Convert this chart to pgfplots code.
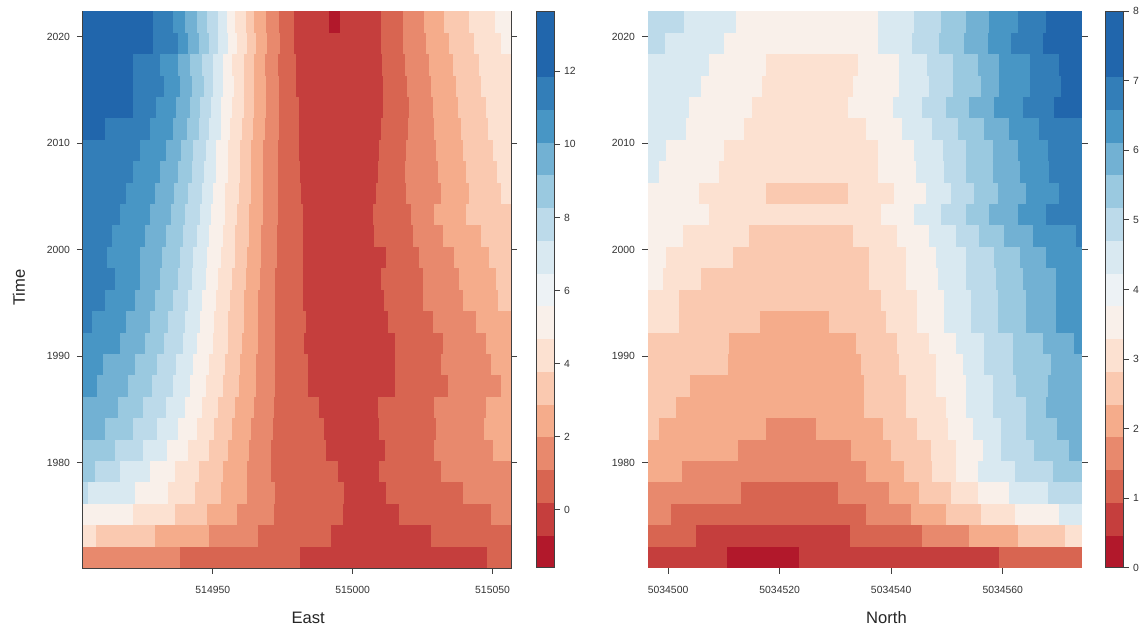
\documentclass[border=0pt]{standalone}
\usepackage{fontspec}
\setmainfont{Liberation Sans}
\usepackage{pgfplots}
\pgfplotsset{compat=1.18}
\pgfplotsset{
  colormap={rdbu}{rgb255=(178,24,43) rgb255=(197,62,61) rgb255=(216,101,81) rgb255=(232,137,109)
    rgb255=(245,172,139) rgb255=(250,201,176) rgb255=(252,225,209) rgb255=(249,240,234)
    rgb255=(237,242,245) rgb255=(217,233,241) rgb255=(188,218,234) rgb255=(154,201,224)
    rgb255=(114,177,211) rgb255=(72,150,197) rgb255=(51,126,184) rgb255=(33,102,172) rgb255=(33,102,172)},
  rw/.style={mesh, shader=flat corner, point meta=explicit, line width=10.9pt, line cap=butt},
  hm/.style={anchor=south west, scale only axis, height=278.5pt,
    ymin=1970.14, ymax=2022.41,
    ytick={1980,1990,2000,2010,2020}, yticklabels={1980,1990,2000,2010,2020},
    xtick pos=bottom, ytick pos=both, yticklabel pos=left,
    tick align=outside, major tick length=3pt,
    axis line style={black!75, line width=0.5pt},
    tick style={black!75, line width=0.5pt},
    ticklabel style={font=\fontsize{5.2}{6}\selectfont, text=black!80},
    xticklabel style={yshift=-2.5pt},
    label style={font=\fontsize{8.3}{10}\selectfont, text=black!85, anchor=center},
    colormap name=rdbu, colormap access=piecewise constant,
    point meta min=-0.5, point meta max=15.5,
    colorbar,
    colorbar style={at={(parent axis.north east)}, anchor=north west, scale only axis,
      width=9pt, ytick pos=right, yticklabel pos=right, tick align=outside, major tick length=3pt,
      axis line style={black!75, line width=0.5pt}, tick style={black!75, line width=0.5pt},
      ticklabel style={font=\fontsize{5.2}{6}\selectfont, text=black!80},
      yticklabel style={xshift=-1.5pt}},
  },
}
\begin{document}
\begin{tikzpicture}
\useasboundingbox (-41.5pt,-32pt) rectangle (529.5pt,284pt);
% ---------------- LEFT: East ----------------
\begin{axis}[hm, at={(0pt,0pt)}, width=214pt,
  xmin=3.6, xmax=156.6, xtick={50,100,150}, xticklabels={514950,515000,515050},
  colorbar style={xshift=4pt, ytick={1.17,3.27,5.37,7.47,9.57,11.67,13.77}, yticklabels={0,2,4,6,8,10,12}},
  xlabel={East}, xlabel style={at={(axis description cs:0.526,-0.0898)}},
  ylabel={Time}, ylabel style={at={(axis description cs:-0.1495,0.503)}}]
\addplot[rw] table[meta=c,row sep=\\,y expr=1971.15]{x c\\3.6 3\\38.4 2\\81.2 1\\148.1 2\\156.6 2\\};
\addplot[rw] table[meta=c,row sep=\\,y expr=1973.16]{x c\\3.6 6\\8.4 5\\29.5 4\\48.5 3\\66.0 2\\92.1 1\\127.9 2\\156.6 2\\};
\addplot[rw] table[meta=c,row sep=\\,y expr=1975.17]{x c\\3.6 7\\21.6 6\\36.6 5\\48.1 4\\58.8 3\\71.7 2\\96.4 1\\116.5 2\\149.4 3\\156.6 3\\};
\addplot[rw] table[meta=c,row sep=\\,y expr=1977.18]{x c\\3.6 9\\5.5 8\\22.3 7\\34.1 6\\43.8 5\\52.8 4\\62.4 3\\72.4 2\\96.8 1\\111.8 2\\139.4 3\\156.6 3\\};
\addplot[rw] table[meta=c,row sep=\\,y expr=1979.19]{x c\\3.6 10\\8.0 9\\17.0 8\\27.7 7\\36.6 6\\44.9 5\\53.5 4\\62.4 3\\70.7 2\\94.6 1\\109.3 2\\131.5 3\\156.6 3\\};
\addplot[rw] table[meta=c,row sep=\\,y expr=1981.20]{x c\\3.6 10\\15.2 9\\25.2 8\\33.8 7\\41.3 6\\48.5 5\\55.6 4\\62.8 3\\70.7 2\\90.3 1\\111.5 2\\129.0 3\\150.1 4\\156.6 4\\};
\addplot[rw] table[meta=c,row sep=\\,y expr=1983.21]{x c\\3.6 11\\11.6 10\\21.6 9\\30.2 8\\37.7 7\\44.2 6\\50.6 5\\57.0 4\\63.8 3\\71.4 2\\89.6 1\\109.3 2\\129.7 3\\146.9 4\\156.6 4\\};
\addplot[rw] table[meta=c,row sep=\\,y expr=1985.22]{x c\\3.6 11\\16.2 10\\25.2 9\\33.1 8\\39.9 7\\46.0 6\\52.0 5\\58.1 4\\64.6 3\\71.7 2\\87.8 1\\109.0 2\\129.0 3\\147.6 4\\156.6 4\\};
\addplot[rw] table[meta=c,row sep=\\,y expr=1987.23]{x c\\3.6 12\\8.7 11\\19.8 10\\28.4 9\\35.6 8\\42.0 7\\47.7 6\\53.5 5\\59.2 4\\65.3 3\\72.1 2\\84.2 1\\115.0 2\\134.0 3\\153.0 4\\156.6 4\\};
\addplot[rw] table[meta=c,row sep=\\,y expr=1989.24]{x c\\3.6 12\\10.9 11\\22.3 10\\30.2 9\\37.0 8\\43.1 7\\48.5 6\\54.2 5\\59.9 4\\65.6 3\\72.4 2\\84.2 1\\115.0 2\\131.5 3\\149.4 4\\156.6 4\\};
\addplot[rw] table[meta=c,row sep=\\,y expr=1991.25]{x c\\3.6 12\\17.0 11\\25.9 10\\32.7 9\\39.2 8\\44.5 7\\49.9 6\\55.3 5\\60.6 4\\66.0 3\\72.4 2\\82.5 1\\115.0 2\\132.2 3\\147.6 4\\156.6 4\\};
\addplot[rw] table[meta=c,row sep=\\,y expr=1993.26]{x c\\3.6 13\\6.9 12\\18.8 11\\27.7 10\\34.1 9\\40.2 8\\45.6 7\\50.6 6\\55.6 5\\61.0 4\\66.3 3\\72.4 2\\83.2 1\\112.5 2\\128.6 3\\144.0 4\\156.6 4\\};
\addplot[rw] table[meta=c,row sep=\\,y expr=1995.27]{x c\\3.6 13\\11.6 12\\22.3 11\\29.5 10\\35.9 9\\41.3 8\\46.3 7\\51.3 6\\56.3 5\\61.3 4\\66.3 3\\72.4 2\\82.1 1\\111.1 2\\125.0 3\\139.4 4\\151.9 5\\156.6 5\\};
\addplot[rw] table[meta=c,row sep=\\,y expr=1997.28]{x c\\3.6 13\\15.2 12\\24.1 11\\31.3 10\\37.4 9\\42.7 8\\47.4 7\\52.0 6\\56.7 5\\61.7 4\\66.7 3\\72.4 2\\82.1 1\\110.0 2\\125.0 3\\137.9 4\\151.2 5\\156.6 5\\};
\addplot[rw] table[meta=c,row sep=\\,y expr=1999.29]{x c\\3.6 13\\12.3 12\\24.1 11\\32.0 10\\38.1 9\\43.1 8\\48.1 7\\52.8 6\\57.8 5\\62.4 4\\67.1 3\\72.8 2\\82.1 1\\111.8 2\\123.6 3\\136.1 4\\148.7 5\\156.6 5\\};
\addplot[rw] table[meta=c,row sep=\\,y expr=2001.30]{x c\\3.6 13\\14.1 12\\25.9 11\\33.4 10\\39.2 9\\44.2 8\\48.8 7\\53.5 6\\58.1 5\\62.8 4\\67.4 3\\72.8 2\\82.1 1\\107.5 2\\121.5 3\\132.2 4\\145.8 5\\156.6 5\\};
\addplot[rw] table[meta=c,row sep=\\,y expr=2003.31]{x c\\3.6 13\\17.0 12\\27.7 11\\34.9 10\\40.2 9\\45.3 8\\49.5 7\\54.2 6\\58.8 5\\63.1 4\\67.8 3\\73.2 2\\82.1 1\\107.2 2\\120.8 3\\129.0 4\\140.4 5\\156.6 5\\};
\addplot[rw] table[meta=c,row sep=\\,y expr=2005.32]{x c\\3.6 13\\18.8 12\\29.5 11\\36.3 10\\41.3 9\\46.0 8\\50.2 7\\54.5 6\\59.2 5\\63.5 4\\67.8 3\\73.2 2\\81.4 1\\108.2 2\\119.0 3\\131.5 4\\141.5 5\\153.0 6\\156.6 6\\};
\addplot[rw] table[meta=c,row sep=\\,y expr=2007.33]{x c\\3.6 13\\21.6 12\\31.3 11\\37.4 10\\42.4 9\\46.7 8\\51.0 7\\55.3 6\\59.6 5\\63.5 4\\68.1 3\\73.2 2\\81.0 1\\109.0 2\\118.6 3\\130.4 4\\140.4 5\\151.5 6\\156.6 6\\};
\addplot[rw] table[meta=c,row sep=\\,y expr=2009.34]{x c\\3.6 13\\24.1 12\\33.1 11\\38.8 10\\43.1 9\\47.4 8\\51.3 7\\55.6 6\\59.9 5\\63.8 4\\68.1 3\\73.2 2\\80.7 1\\109.3 2\\119.0 3\\129.7 4\\139.4 5\\150.1 6\\156.6 6\\};
\addplot[rw] table[meta=c,row sep=\\,y expr=2011.35]{x c\\3.6 14\\11.6 13\\27.7 12\\35.6 11\\40.6 10\\44.9 9\\48.8 8\\52.8 7\\56.3 6\\60.6 5\\64.2 4\\68.5 3\\73.5 2\\80.7 1\\110.0 2\\119.7 3\\129.0 4\\138.6 5\\148.3 6\\156.6 6\\};
\addplot[rw] table[meta=c,row sep=\\,y expr=2013.36]{x c\\3.6 14\\21.6 13\\29.8 12\\37.0 11\\41.7 10\\45.6 9\\49.5 8\\53.1 7\\57.0 6\\61.0 5\\64.6 4\\68.9 3\\73.5 2\\80.7 1\\110.7 2\\120.1 3\\128.6 4\\137.6 5\\147.6 6\\156.6 6\\};
\addplot[rw] table[meta=c,row sep=\\,y expr=2015.37]{x c\\3.6 14\\21.6 13\\32.4 12\\38.4 11\\42.7 10\\46.7 9\\50.2 8\\53.8 7\\57.4 6\\61.3 5\\64.9 4\\68.9 3\\73.5 2\\79.9 1\\110.7 2\\119.3 3\\127.9 4\\136.9 5\\145.8 6\\156.6 6\\};
\addplot[rw] table[meta=c,row sep=\\,y expr=2017.38]{x c\\3.6 14\\21.6 13\\31.3 12\\37.7 11\\42.0 10\\46.0 9\\49.9 8\\53.5 7\\57.0 6\\61.0 5\\64.6 4\\68.5 3\\73.2 2\\79.6 1\\110.4 2\\118.6 3\\127.2 4\\135.8 5\\145.1 6\\156.6 6\\};
\addplot[rw] table[meta=c,row sep=\\,y expr=2019.39]{x c\\3.6 14\\28.8 13\\37.4 12\\41.3 11\\44.9 10\\48.5 9\\52.0 8\\55.3 7\\58.5 6\\62.1 5\\65.3 4\\69.2 3\\73.9 2\\79.2 1\\110.0 2\\117.9 3\\126.1 4\\134.4 5\\143.3 6\\153.0 7\\156.6 7\\};
\addplot[rw] table[meta=c,row sep=\\,y expr=2021.40]{x c\\3.6 14\\10.4 15\\15.5 14\\28.8 13\\35.6 12\\40.2 11\\44.2 10\\48.1 9\\51.7 8\\54.9 7\\58.1 6\\61.7 5\\64.6 4\\68.9 3\\73.5 2\\78.9 1\\91.4 0\\95.4 1\\110.0 2\\117.9 3\\125.4 4\\132.6 5\\141.5 6\\150.8 7\\156.6 7\\};
\end{axis}
% ---------------- RIGHT: North ----------------
\begin{axis}[hm, at={(282.5pt,0pt)}, width=217pt,
  xmin=-3.6, xmax=74.2, xtick={0,20,40,60}, xticklabels={5034500,5034520,5034540,5034560},
  colorbar style={xshift=3pt, ytick={-0.5,1.5,3.5,5.5,7.5,9.5,11.5,13.5,15.5}, yticklabels={0,1,2,3,4,5,6,7,8}},
  xlabel={North}, xlabel style={at={(axis description cs:0.5495,-0.0898)}}]
\addplot[rw] table[meta=c,row sep=\\,y expr=1971.15]{x c\\-3.6 1\\10.5 0\\23.4 1\\59.4 2\\74.2 2\\};
\addplot[rw] table[meta=c,row sep=\\,y expr=1973.16]{x c\\-3.6 2\\5.0 1\\32.6 2\\45.6 3\\54.0 4\\62.7 5\\71.2 6\\74.2 6\\};
\addplot[rw] table[meta=c,row sep=\\,y expr=1975.17]{x c\\-3.6 3\\0.5 2\\35.5 3\\43.5 4\\49.8 5\\56.1 6\\62.1 7\\70.1 8\\74.2 8\\};
\addplot[rw] table[meta=c,row sep=\\,y expr=1977.18]{x c\\-3.6 3\\13.0 2\\30.4 3\\39.6 4\\45.0 5\\50.7 6\\55.5 7\\61.2 8\\68.1 9\\74.2 9\\};
\addplot[rw] table[meta=c,row sep=\\,y expr=1979.19]{x c\\-3.6 4\\2.5 3\\35.5 4\\42.3 5\\47.4 6\\51.6 7\\55.5 8\\62.1 9\\69.0 10\\74.2 10\\};
\addplot[rw] table[meta=c,row sep=\\,y expr=1981.20]{x c\\-3.6 4\\12.5 3\\32.8 4\\39.9 5\\47.1 6\\51.6 7\\56.4 8\\59.7 9\\65.6 10\\71.9 11\\74.2 11\\};
\addplot[rw] table[meta=c,row sep=\\,y expr=1983.21]{x c\\-3.6 5\\-1.7 4\\17.5 3\\26.5 4\\38.5 5\\44.7 6\\50.1 7\\54.6 8\\59.7 9\\64.2 10\\69.8 11\\74.2 11\\};
\addplot[rw] table[meta=c,row sep=\\,y expr=1985.22]{x c\\-3.6 5\\1.4 4\\35.2 5\\42.6 6\\49.8 7\\53.4 8\\58.2 9\\64.2 10\\67.7 11\\74.2 11\\};
\addplot[rw] table[meta=c,row sep=\\,y expr=1987.23]{x c\\-3.6 5\\3.9 4\\35.2 5\\42.6 6\\48.0 7\\53.4 8\\58.2 9\\62.4 10\\68.1 11\\74.2 11\\};
\addplot[rw] table[meta=c,row sep=\\,y expr=1989.24]{x c\\-3.6 5\\10.7 4\\34.6 5\\41.4 6\\48.0 7\\52.8 8\\56.7 9\\61.8 10\\68.6 11\\74.2 11\\};
\addplot[rw] table[meta=c,row sep=\\,y expr=1991.25]{x c\\-3.6 5\\10.9 4\\33.7 5\\41.1 6\\46.8 7\\51.6 8\\56.7 9\\61.8 10\\67.2 11\\72.8 12\\74.2 12\\};
\addplot[rw] table[meta=c,row sep=\\,y expr=1993.26]{x c\\-3.6 6\\1.9 5\\16.4 4\\28.8 5\\39.0 6\\44.7 7\\49.5 8\\54.3 9\\59.1 10\\64.2 11\\69.5 12\\74.2 12\\};
\addplot[rw] table[meta=c,row sep=\\,y expr=1995.27]{x c\\-3.6 6\\1.9 5\\38.2 6\\44.7 7\\49.5 8\\54.3 9\\59.1 10\\64.2 11\\69.5 12\\74.2 12\\};
\addplot[rw] table[meta=c,row sep=\\,y expr=1997.28]{x c\\-3.6 7\\-1.0 6\\5.9 5\\36.1 6\\42.6 7\\48.3 8\\53.4 9\\58.8 10\\63.6 11\\69.5 12\\74.2 12\\};
\addplot[rw] table[meta=c,row sep=\\,y expr=1999.29]{x c\\-3.6 7\\-0.4 6\\11.6 5\\36.1 6\\42.6 7\\48.0 8\\53.4 9\\58.5 10\\63.0 11\\67.7 12\\74.2 12\\};
\addplot[rw] table[meta=c,row sep=\\,y expr=2001.30]{x c\\-3.6 7\\2.6 6\\14.5 5\\33.1 6\\41.1 7\\46.8 8\\51.6 9\\55.8 10\\60.3 11\\65.4 12\\73.1 13\\74.2 13\\};
\addplot[rw] table[meta=c,row sep=\\,y expr=2003.31]{x c\\-3.6 7\\7.3 6\\38.2 7\\44.1 8\\48.9 9\\53.4 10\\57.6 11\\62.7 12\\67.7 13\\74.2 13\\};
\addplot[rw] table[meta=c,row sep=\\,y expr=2005.32]{x c\\-3.6 7\\5.5 6\\17.5 5\\32.2 6\\40.5 7\\46.2 8\\50.7 9\\54.9 10\\59.1 11\\64.2 12\\70.1 13\\74.2 13\\};
\addplot[rw] table[meta=c,row sep=\\,y expr=2007.33]{x c\\-3.6 8\\-1.7 7\\9.1 6\\37.6 7\\44.4 8\\49.5 9\\53.4 10\\58.2 11\\63.0 12\\68.3 13\\74.2 13\\};
\addplot[rw] table[meta=c,row sep=\\,y expr=2009.34]{x c\\-3.6 8\\-0.4 7\\10.0 6\\37.6 7\\44.1 8\\49.2 9\\53.4 10\\58.2 11\\62.7 12\\68.1 13\\74.2 13\\};
\addplot[rw] table[meta=c,row sep=\\,y expr=2011.35]{x c\\-3.6 8\\3.2 7\\13.6 6\\35.5 7\\42.0 8\\47.4 9\\51.9 10\\56.7 11\\61.2 12\\66.5 13\\74.2 13\\};
\addplot[rw] table[meta=c,row sep=\\,y expr=2013.36]{x c\\-3.6 8\\3.7 7\\15.1 6\\32.2 7\\40.3 8\\45.6 9\\49.8 10\\54.0 11\\58.5 12\\63.6 13\\69.2 14\\74.2 14\\};
\addplot[rw] table[meta=c,row sep=\\,y expr=2015.37]{x c\\-3.6 8\\5.9 7\\16.9 6\\33.1 7\\41.4 8\\46.8 9\\51.0 10\\56.1 11\\59.4 12\\64.8 13\\70.4 14\\74.2 14\\};
\addplot[rw] table[meta=c,row sep=\\,y expr=2017.38]{x c\\-3.6 8\\7.3 7\\17.5 6\\34.0 7\\41.4 8\\46.5 9\\51.0 10\\55.5 11\\59.4 12\\64.8 13\\70.1 14\\74.2 14\\};
\addplot[rw] table[meta=c,row sep=\\,y expr=2019.39]{x c\\-3.6 9\\-0.6 8\\10.0 7\\37.6 8\\43.8 9\\48.6 10\\53.1 11\\57.3 12\\61.5 13\\67.2 14\\74.2 14\\};
\addplot[rw] table[meta=c,row sep=\\,y expr=2021.40]{x c\\-3.6 9\\2.9 8\\12.1 7\\37.6 8\\44.1 9\\48.9 10\\53.4 11\\57.6 12\\62.7 13\\67.7 14\\73.7 15\\74.2 15\\};
\end{axis}
\end{tikzpicture}
\end{document}
